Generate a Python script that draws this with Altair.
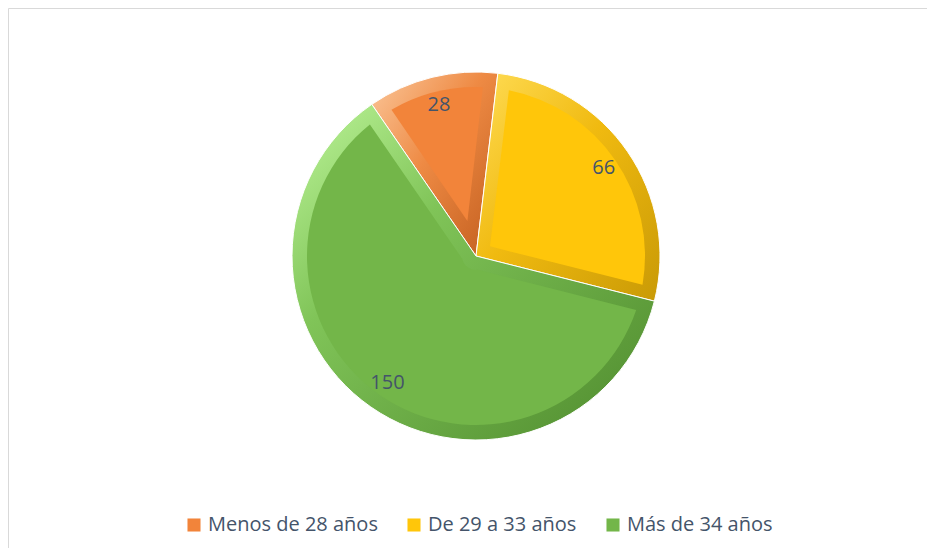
import math
import altair as alt
import pandas as pd

# ---- data ----
categories = ["Menos de 28 años", "De 29 a 33 años", "Más de 34 años"]
values = [28, 66, 150]
order = [0, 1, 2]

# ---- styles ----
face_colors = ["#F2843A", "#FFC60A", "#73B649"]
bevel_stops = [
    [("#FBC79A", 0.0), ("#EE8A44", 0.45), ("#C25E1E", 1.0)],
    [("#FFDC55", 0.0), ("#F0BA10", 0.45), ("#C99A06", 1.0)],
    [("#BDF59A", 0.0), ("#80C458", 0.35), ("#4E8A2D", 1.0)],
]
face_inner = [36, 17, 14]
CX, CY = 468, 248
R_OUT, R_FACE, R_LABEL = 184, 169, 155
start = 2 * math.pi - 0.602
theta_scale = alt.Scale(domain=[0, 1], range=[start, start + 2 * math.pi])

df = pd.DataFrame({"cat": categories, "value": values, "ord": order})

base = (
    alt.Chart(df)
    .transform_joinaggregate(total="sum(value)")
    .transform_window(cum="sum(value)", sort=[alt.SortField("ord")], frame=[None, 0])
    .transform_calculate(
        t0="(datum.cum - datum.value) / datum.total",
        t1="datum.cum / datum.total",
        tm="(datum.cum - datum.value / 2) / datum.total",
    )
)

pos = dict(
    theta=alt.Theta("t0:Q", scale=theta_scale, stack=False),
    theta2="t1:Q",
    x=alt.value(CX),
    y=alt.value(CY),
)

color_enc = alt.Color(
    "cat:N",
    scale=alt.Scale(domain=categories, range=face_colors),
    sort=categories,
    legend=alt.Legend(
        title=None,
        orient="none",
        legendX=176,
        legendY=507,
        direction="horizontal",
        labelFont="Open Sans",
        labelFontSize=20,
        labelLimit=400,
        labelColor="#44546A",
        symbolType="square",
        symbolSize=170,
        symbolStrokeWidth=0,
        labelOffset=4,
        columnPadding=26,
    ),
)

bevels = []
faces = []
for i, c in enumerate(categories):
    sub = base.transform_filter(alt.datum.cat == c)
    grad = {
        "gradient": "linear",
        "x1": 0, "y1": 0, "x2": 1, "y2": 1,
        "stops": [{"color": col, "offset": off} for col, off in bevel_stops[i]],
    }
    bevels.append(
        sub.mark_arc(radius=R_OUT, fill=grad, stroke="white", strokeWidth=1).encode(**pos)
    )
    faces.append(
        sub.mark_arc(radius=R_FACE, radius2=face_inner[i], padAngle=0.153).encode(
            color=color_enc, **pos
        )
    )

labels = base.mark_text(
    radius=R_LABEL, font="Open Sans", fontSize=20, color="#44546A"
).encode(
    theta=alt.Theta("tm:Q", scale=theta_scale, stack=False),
    x=alt.value(CX),
    y=alt.value(CY),
    text="value:Q",
)

chart = (
    alt.layer(*bevels, *faces, labels)
    .properties(width=919, height=540, padding=0, background="white")
    .configure_view(stroke="#D9D9D9", strokeWidth=1)
)

chart.save("out.html", embed_options={"renderer": "svg", "actions": False})
